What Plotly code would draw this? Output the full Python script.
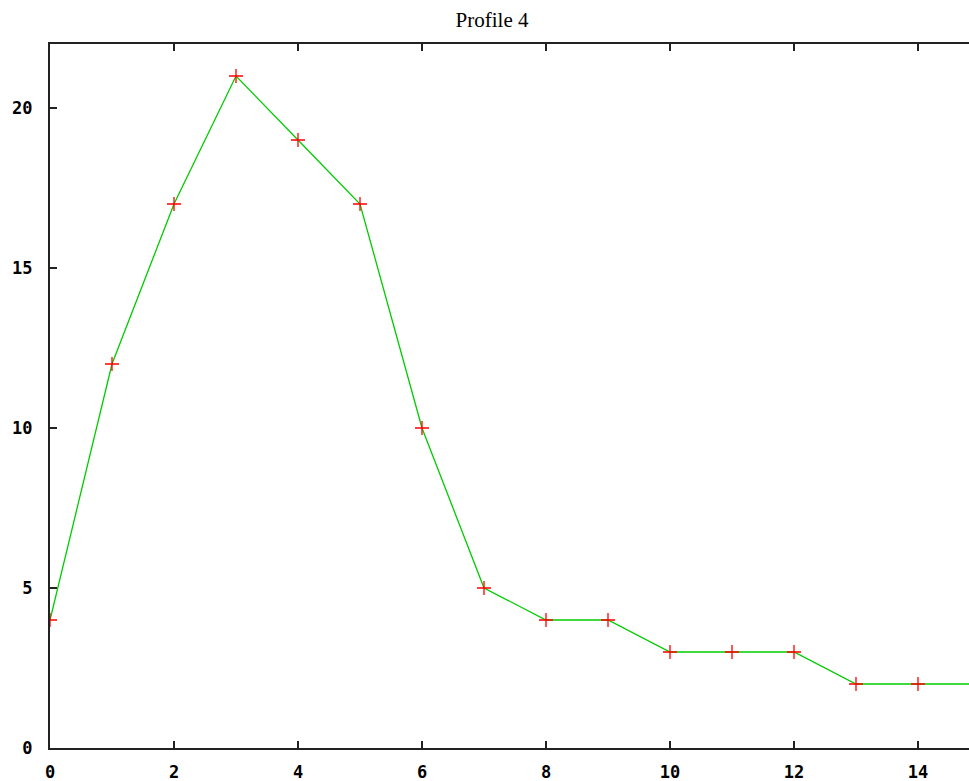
import plotly.graph_objects as go

# Profile values at each position
positions = [0, 1, 2, 3, 4, 5, 6, 7, 8, 9, 10, 11, 12, 13, 14, 15]
counts = [4, 12, 17, 21, 19, 17, 10, 5, 4, 4, 3, 3, 3, 2, 2, 2]

x_ticks = [0, 2, 4, 6, 8, 10, 12, 14]
y_ticks = [0, 5, 10, 15, 20]

W, H = 969, 781
left, top, bottom = 50, 44, 33
px_per_x = 62.0
x_max = (W - left) / px_per_x

fig = go.Figure()
fig.add_trace(go.Scatter(
    x=positions, y=counts, mode="lines",
    line=dict(color="#00cc00", width=1.3),
    hoverinfo="skip", showlegend=False,
))
fig.add_trace(go.Scatter(
    x=positions, y=counts, mode="markers",
    marker=dict(symbol="cross-thin", size=10,
                line=dict(color="#ff0000", width=1.3)),
    showlegend=False,
))

tick_font = dict(family="DejaVu Sans Mono", size=17, color="#000000")

fig.update_layout(
    width=W, height=H,
    margin=dict(l=left, r=0, t=top, b=bottom),
    paper_bgcolor="white", plot_bgcolor="white",
    title=dict(text="Profile 4", x=492 / W, xanchor="center",
               y=1 - 20 / H, yanchor="middle",
               font=dict(family="Liberation Serif", size=21, color="#000000")),
    xaxis=dict(
        range=[0, x_max], tickvals=x_ticks,
        ticktext=[f"<b>{v}</b>" for v in x_ticks],
        showgrid=False, zeroline=False,
        showline=True, linecolor="#222222", linewidth=2, mirror="allticks",
        ticks="inside", ticklen=7, tickwidth=1.5, tickcolor="#222222",
        tickfont=tick_font, ticklabelstandoff=8,
    ),
    yaxis=dict(
        range=[0, 22], tickvals=y_ticks,
        ticktext=[f"<b>{v}</b>" for v in y_ticks],
        showgrid=False, zeroline=False,
        showline=True, linecolor="#222222", linewidth=2, mirror=False,
        ticks="inside", ticklen=7, tickwidth=1.5, tickcolor="#222222",
        tickfont=tick_font, ticklabelstandoff=12,
    ),
)

fig.write_html("out.html")
